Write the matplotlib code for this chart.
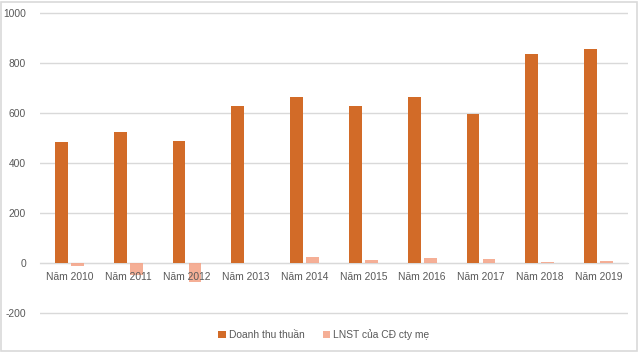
import matplotlib
matplotlib.use("Agg")
import matplotlib.pyplot as plt
import numpy as np
from matplotlib.patches import Rectangle

categories = ["Năm 2010", "Năm 2011", "Năm 2012", "Năm 2013", "Năm 2014",
              "Năm 2015", "Năm 2016", "Năm 2017", "Năm 2018", "Năm 2019"]
doanh_thu = [485, 525, 488, 629, 666, 629, 664, 598, 837, 857]
lnst = [-12, -46, -77, 0, 25, 13, 22, 15, 5, 9]
yticks = [-200, 0, 200, 400, 600, 800, 1000]

c_orange = "#D26B28"
c_pink = "#F4A68B"
grid_c = "#D9D9D9"
text_c = "#595959"

plt.rcParams['font.family'] = ['Liberation Sans', 'DejaVu Sans']

fig = plt.figure(figsize=(6.4, 3.52), dpi=100)
ax = fig.add_axes([40/640, 1-315/352, 588/640, 304/352])

x = np.arange(len(categories))
w = 0.22
off = 0.136
ax.bar(x - off, doanh_thu, width=w, color=c_orange, label="Doanh thu thuần", zorder=3)
ax.bar(x + off, lnst, width=w, color=c_pink, label="LNST của CĐ cty mẹ", zorder=3, alpha=0.9)

ax.set_xlim(-0.5, len(categories) - 0.5)
ax.set_ylim(-208, 1008)
ax.set_yticks(yticks)
ax.set_yticklabels([str(v) for v in yticks])
ax.set_xticks(x)
ax.set_xticklabels(categories)
ax.yaxis.grid(True, color=grid_c, linewidth=1, zorder=0)
ax.set_axisbelow(True)
for s in ['top', 'right', 'left']:
    ax.spines[s].set_visible(False)
ax.spines['bottom'].set_position(('data', 0))
ax.spines['bottom'].set_color(grid_c)
ax.xaxis.set_zorder(4)
ax.tick_params(axis='both', length=0, labelsize=7.4, labelcolor=text_c)
ax.tick_params(axis='y', pad=10)
ax.tick_params(axis='x', pad=6.5)

leg = fig.legend(loc='center', bbox_to_anchor=(0.506, 1-335/352), ncol=2, frameon=False,
                 fontsize=7.4, handlelength=0.7, handleheight=0.7, handletextpad=0.3,
                 columnspacing=1.8, labelcolor=text_c)

fig.patches.append(Rectangle((1/640, 1/352), 636/640, 349/352, transform=fig.transFigure,
                             fill=False, edgecolor="#D9D9D9", linewidth=1.2))

fig.savefig("out.png", dpi=100)
